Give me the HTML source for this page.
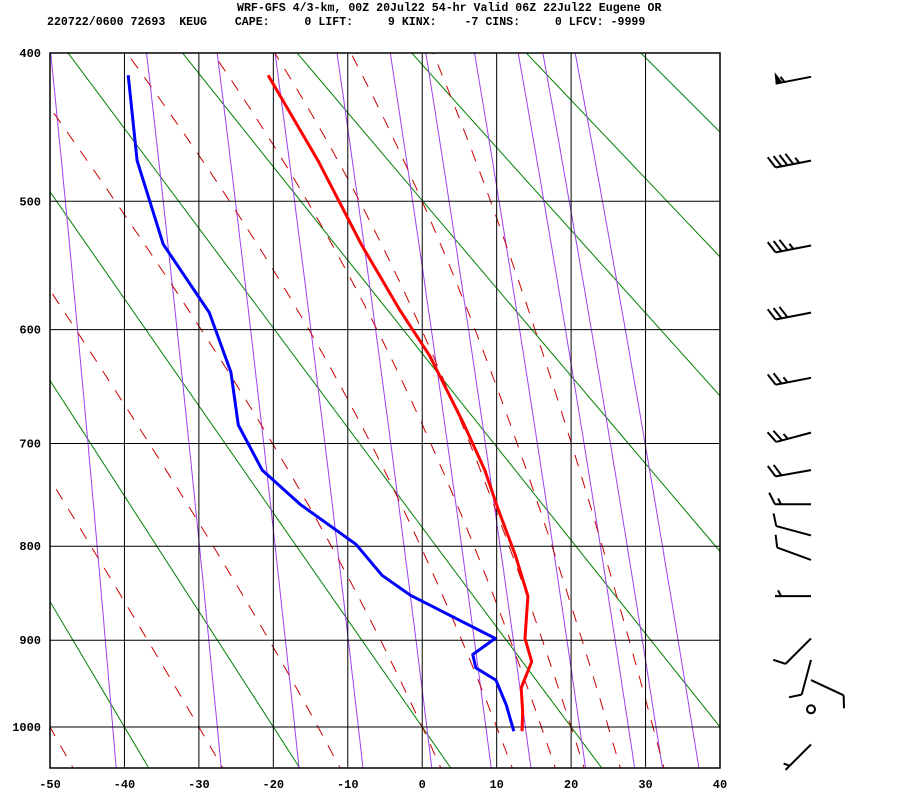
<!DOCTYPE html>
<html><head><meta charset="utf-8">
<style>
html,body{margin:0;padding:0;background:#fff;}
body{width:900px;height:800px;overflow:hidden;position:relative;}
svg{position:absolute;left:0;top:0;}
text{font-family:"Liberation Mono",monospace;font-weight:bold;}
</style></head>
<body>
<svg id="chart" width="900" height="800" viewBox="0 0 900 800">
  <text x="237" y="11" font-size="11.6" xml:space="preserve">WRF-GFS 4/3-km, 00Z 20Jul22 54-hr Valid 06Z 22Jul22 Eugene OR</text>
  <text x="47" y="25" font-size="11.6" xml:space="preserve">220722/0600 72693  KEUG    CAPE:     0 LIFT:     9 KINX:    -7 CINS:     0 LFCV: -9999</text>
  <defs><clipPath id="plotclip"><rect x="50" y="53" width="670" height="715"/></clipPath></defs>
  <g id="bg" clip-path="url(#plotclip)"></g>
  <g id="grid"></g>
  <g id="series" clip-path="url(#plotclip)"></g>
  <g id="barbs"></g>
</svg>
<script>
// ---- data ----
const tempP = [414,471,533,584,622,681,725,763,809,852,898,924,954,983,1005];
const tempC = [-20.7,-14.0,-8.1,-3.0,1.0,5.5,8.4,10.2,12.5,14.2,13.8,14.7,13.3,13.5,13.4];
const dewP  = [414,471,532,586,636,683,725,758,798,830,851,898,916,931,945,974,1005];
const dewC  = [-39.5,-38.3,-34.8,-28.6,-25.7,-24.7,-21.5,-16.4,-8.9,-5.4,-1.6,9.8,6.8,7.2,9.9,11.3,12.3];
const pressureTicks = [400,500,600,700,800,900,1000];
const tempTicks = [-50,-40,-30,-20,-10,0,10,20,30,40];
const thetaLines = [193.15,213.15,233.15,253.15,273.15,293.15,313.15,333.15,353.15,373.15,393.15,413.15,433.15];
const moistStarts = [-50,-30,-14,0,10,16,20,25,31];
const mixRatios = [0.1,0.4,1,2,4,7,10,16,24,30,40];
const windP   = [415,471,533,586,641,690,725,758,789,814,852,898,922,945,979,1021];
const windDir = [259,259,259,259,259,255,260,270,285,290,270,225,195,115,0,225];
const windKt  = [55,45,35,30,25,25,20,15,10,10,5,10,10,10,0,5];

// ---- axes ----
const K=0.286, PT=400, PB=1000, YT=53, YB=727;
const a0=Math.pow(PT,K), a1=Math.pow(PB,K);
function X(t){return 50+(t+50)*(670/90);}
function Y(p){return YT+(Math.pow(p,K)-a0)/(a1-a0)*(YB-YT);}
const NS="http://www.w3.org/2000/svg";
function mk(tag,attrs,parent){const e=document.createElementNS(NS,tag);for(const k in attrs)e.setAttribute(k,attrs[k]);parent.appendChild(e);return e;}
const bg=document.getElementById('bg'), grid=document.getElementById('grid'), series=document.getElementById('series'), barbs=document.getElementById('barbs');
function polyPts(arr){return arr.map(q=>X(q[0]).toFixed(1)+','+Y(q[1]).toFixed(1)).join(' ');}
const pList=[];for(let p=380;p<=1060;p+=5)pList.push(p);

// dry adiabats
thetaLines.forEach(th=>{
  const pts=[[th*Math.pow(380/1000,K)-273.15,380],[th*Math.pow(1060/1000,K)-273.15,1060]];
  const el=mk('polyline',{points:polyPts(pts),fill:'none',stroke:'#008000','stroke-width':1},bg);
  
  
});
// mixing ratio lines
function tdFromW(w,p){const e=w*p/(622+w);const l=Math.log(e/6.112);return 243.5*l/(17.67-l);}
mixRatios.forEach(w=>{
  const pts=pList.map(p=>[tdFromW(w,p),p]);
  const el=mk('polyline',{points:polyPts(pts),fill:'none',stroke:'#a040f0','stroke-width':1},bg);
  
  
});
// moist adiabats
function dTdp(T,p){const Tc=T-273.15;const es=6.112*Math.exp(17.67*Tc/(Tc+243.5));const rs=0.622*es/(p-es);
  const Rd=287,cp=1004,L=2.5e6;return (Rd*T+L*rs)/(p*(cp+L*L*rs*0.622/(Rd*T*T)));}
moistStarts.forEach(t0=>{
  const up=[],down=[];let T=t0+273.15;
  for(let p=1000;p>=380;p-=2){up.push([T-273.15,p]);T-=dTdp(T,p)*2;}
  T=t0+273.15;for(let p=1000;p<=1060;p+=2){down.push([T-273.15,p]);T+=dTdp(T,p)*2;}
  const pts=down.reverse().concat(up.slice(1));
  const el=mk('polyline',{points:polyPts(pts),fill:'none',stroke:'#cc0000','stroke-width':1,'stroke-dasharray':'12 11'},bg);
  
  
});
// grid
tempTicks.forEach(t=>{
  const el=mk('line',{x1:X(t),x2:X(t),y1:53,y2:768,stroke:'#000','stroke-width':1},grid);
  
  
  const tx=mk('text',{x:X(t),y:788,'font-size':12,'text-anchor':'middle'},grid);tx.textContent=String(t);
  
  
});
pressureTicks.forEach(p=>{
  const el=mk('line',{x1:50,x2:720,y1:Y(p),y2:Y(p),stroke:'#000','stroke-width':1},grid);
  
  
  const tx=mk('text',{x:41,y:Y(p)+4,'font-size':12,'text-anchor':'end'},grid);tx.textContent=String(p);
  
  
});
const fr=mk('rect',{x:50,y:53,width:670,height:715,fill:'none',stroke:'#000','stroke-width':1.5},grid);


// sounding
const tl=mk('polyline',{points:polyPts(tempC.map((t,i)=>[t,tempP[i]])),fill:'none',stroke:'#ff0000','stroke-width':3,'stroke-linejoin':'round'},series);


const dl=mk('polyline',{points:polyPts(dewC.map((t,i)=>[t,dewP[i]])),fill:'none',stroke:'#0000ff','stroke-width':3,'stroke-linejoin':'round'},series);


// wind barbs
const BX=811, SL=36, FL=13, SP=6;
windP.forEach((p,i)=>{
  const y=Y(p), d=windDir[i]*Math.PI/180, spd=windKt[i];
  const g=mk('g',{},barbs);
  
  
  if(spd<3){mk('circle',{cx:BX,cy:y,r:4,fill:'none',stroke:'#000','stroke-width':2},g);return;}
  const sx=Math.sin(d), sy=-Math.cos(d);
  const ex=BX+sx*SL, ey=y+sy*SL;
  mk('line',{x1:BX,y1:y,x2:ex,y2:ey,stroke:'#000','stroke-width':2},g);
  const fx=(sx*0.45-sy*0.89), fy=(sy*0.45+sx*0.89);
  let rem=spd, pos=0;
  while(rem>=50){const bx=ex-sx*pos,by=ey-sy*pos;const cx=ex-sx*(pos+7),cy=ey-sy*(pos+7);
    mk('polygon',{points:`${bx},${by} ${cx+fx*FL},${cy+fy*FL} ${cx},${cy}`,fill:'#000'},g);rem-=50;pos+=9;}
  while(rem>=10){const bx=ex-sx*pos,by=ey-sy*pos;mk('line',{x1:bx,y1:by,x2:bx+fx*FL,y2:by+fy*FL,stroke:'#000','stroke-width':2},g);rem-=10;pos+=SP;}
  if(rem>=5){if(pos===0)pos=SP;const bx=ex-sx*pos,by=ey-sy*pos;mk('line',{x1:bx,y1:by,x2:bx+fx*FL/2,y2:by+fy*FL/2,stroke:'#000','stroke-width':2},g);}
});
</script>
</body></html>
